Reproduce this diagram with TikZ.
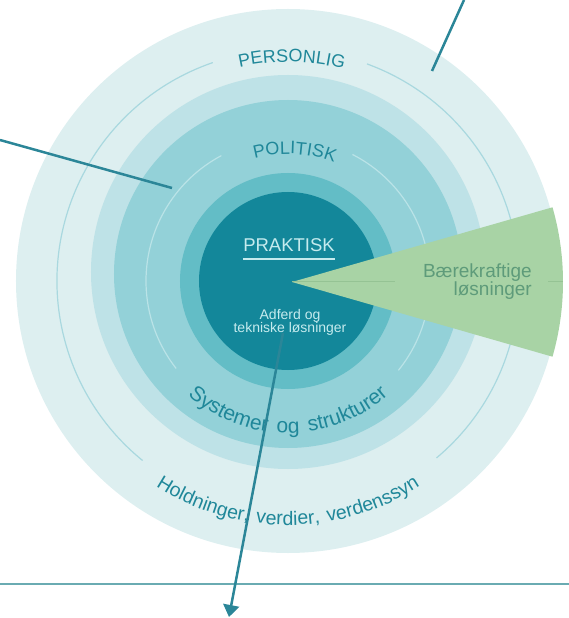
\documentclass[tikz,border=0pt]{standalone}
\usepackage{fontspec}
\setmainfont{Liberation Sans}
\newfontfamily\capsfont[LetterSpace=12]{Liberation Sans}
\newfontfamily\midfont[LetterSpace=15]{Liberation Sans}
\newfontfamily\sysfont[LetterSpace=16]{Liberation Sans}
\newfontfamily\lowfont[LetterSpace=10]{Liberation Sans}
\usetikzlibrary{decorations.text,arrows.meta}
\definecolor{outerC}{HTML}{DDEFF0}
\definecolor{ringTwoC}{HTML}{BEE2E7}
\definecolor{ringThreeC}{HTML}{93D1D8}
\definecolor{ringFourC}{HTML}{63BDC6}
\definecolor{coreC}{HTML}{13879A}
\definecolor{thinOC}{HTML}{A9D8DF}
\definecolor{thinIC}{HTML}{BAE3E7}
\definecolor{labelC}{HTML}{1F8799}
\definecolor{coreTextC}{HTML}{C5EBEE}
\definecolor{wedgeC}{HTML}{A8D3A5}
\definecolor{wedgeTextC}{HTML}{5E9B7A}
\definecolor{wedgeLineC}{HTML}{95C394}
\definecolor{connC}{HTML}{2B8698}
\definecolor{ruleC}{HTML}{6AABB2}
\tikzset{
  thinouter/.style={draw=thinOC, line width=1.2pt},
  thininner/.style={draw=thinIC, line width=1.2pt},
  ringlabel/.style={decorate, decoration={text along path, text align=center, text color=labelC}},
  conn/.style={draw=connC, line width=2.5pt},
  rulerline/.style={draw=ruleC, line width=1.5pt},
  coretext/.style={text=coreTextC, inner sep=0pt},
  wedgetext/.style={text=wedgeTextC, inner sep=0pt, anchor=base east, font=\fontsize{19}{22}\selectfont}
}
\begin{document}
\begin{tikzpicture}[x=1pt,y=1pt]
\useasboundingbox (-288,-337) rectangle (281,281);
% rings
\fill[outerC] (0,0) circle (272);
\draw[thinouter] (109:231) arc (109:231:231);
\draw[thinouter] (-50:231) arc (-50:70:231);
\fill[ringTwoC] (0,9) circle (197);
\fill[ringThreeC] (0,7) circle (174);
\draw[thininner] (118:142) arc (118:218:142);
\draw[thininner] (-39:142) arc (-39:63:142);
\fill[ringFourC] (0,0) circle (108);
\fill[coreC] (0,0) circle (89);
% ring labels
\path[ringlabel, decoration={text={|\fontsize{18}{20}\capsfont|PERSONLIG}}] (124:219) arc (124:54:219);
\path[ringlabel, decoration={text={|\fontsize{18}{20}\midfont|POLITISK}}] (132:127) arc (132:42:127);
\path[ringlabel, decoration={text={|\fontsize{21}{24}\sysfont|Systemer og strukturer}}] (180:152) arc (180:360:152);
\path[ringlabel, decoration={text={|\fontsize{19.5}{22}\lowfont|Holdninger, verdier, verdenssyn}}] (200:244) arc (200:340:244);
% core
\node[coretext, anchor=base, font=\fontsize{18.5}{22}\selectfont] (prak) at (1,29) {PRAKTISK};
\draw[coreTextC, line width=1.3pt] (-45,22) -- (47,22);
\node[coretext, anchor=base, font=\fontsize{14}{16}\selectfont] (adfA) at (2,-38) {Adferd og};
\node[coretext, anchor=base, font=\fontsize{14}{16}\selectfont] (adfB) at (2,-52) {tekniske løsninger};
% wedge
\fill[wedgeC] (4,-1) -- ++(-16:271) arc (-16:16:271) -- cycle;
\draw[wedgeLineC, line width=1pt] (4,-1) -- (107,-1);
\draw[wedgeLineC, line width=1pt] (260,-1) -- (275,-1);
\node[wedgetext] (wA) at (244,3) {Bærekraftige};
\node[wedgetext] (wB) at (244,-15) {løsninger};
% connectors
\coordinate (trIn) at (144,210);
\coordinate (trOut) at (176,281);
\coordinate (lIn) at (-116,93);
\coordinate (lOut) at (-288,141);
\coordinate (bIn) at (-5,-52);
\coordinate (bOut) at (-59,-336);
\coordinate (ruleL) at (-288,-303);
\coordinate (ruleR) at (281,-303);
\draw[rulerline] (ruleL) -- (ruleR);
\draw[conn] (trOut) -- (trIn);
\draw[conn] (lOut) -- (lIn);
\draw[conn, -{Triangle[width=16pt,length=12pt]}] (bIn) -- (bOut);
\end{tikzpicture}
\end{document}
